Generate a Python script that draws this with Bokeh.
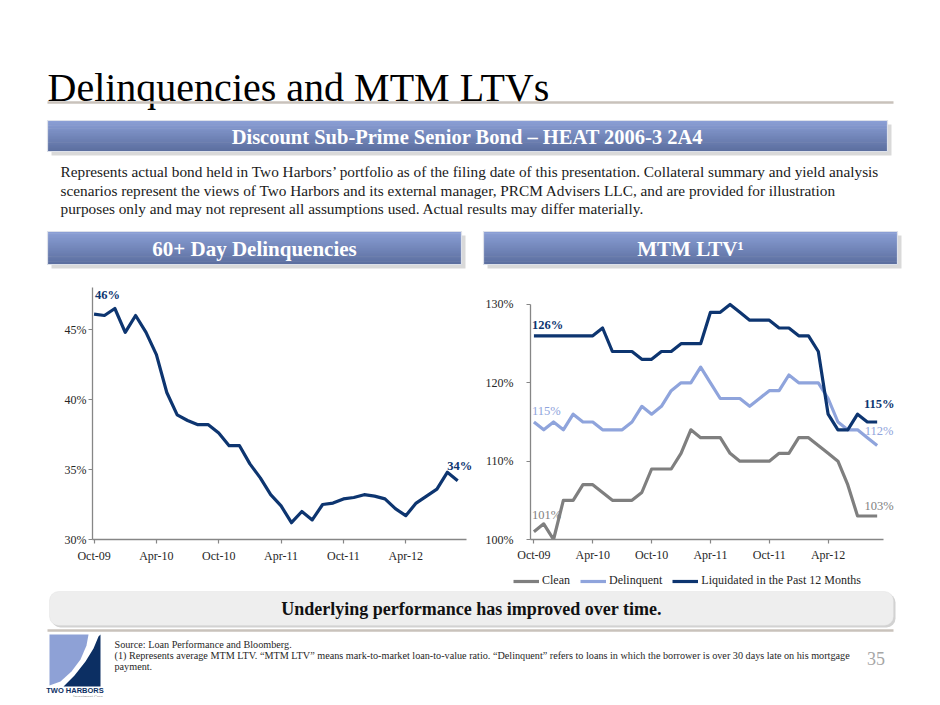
from bokeh.plotting import figure
from bokeh.layouts import column, row
from bokeh.models import Range1d, FixedTicker, Legend, LegendItem, BoxAnnotation, PrintfTickFormatter
from bokeh.core.properties import value
from bokeh.embed import file_html
from bokeh.resources import INLINE

# ---------------- data ----------------
tick_months = [0, 6, 12, 18, 24, 30]
tick_labels = ["Oct-09", "Apr-10", "Oct-10", "Apr-11", "Oct-11", "Apr-12"]
month_index = list(range(36))

delinquency_60 = [46.1, 46.0, 46.5, 44.8, 46.0, 44.8, 43.2, 40.5, 38.9, 38.5, 38.2, 38.2,
                  37.6, 36.7, 36.7, 35.4, 34.4, 33.2, 32.4, 31.2, 32.0, 31.4, 32.5, 32.6,
                  32.9, 33.0, 33.2, 33.1, 32.9, 32.2, 31.7, 32.6, 33.1, 33.6, 34.8, 34.2]

ltv_clean = [101, 102, 100, 105, 105, 107, 107, 106, 105, 105, 105, 106,
             109, 109, 109, 111, 114, 113, 113, 113, 111, 110, 110, 110,
             110, 111, 111, 113, 113, 112, 111, 110, 107, 103, 103, 103]
ltv_delinquent = [115, 114, 115, 114, 116, 115, 115, 114, 114, 114, 115, 117,
                  116, 117, 119, 120, 120, 122, 120, 118, 118, 118, 117, 118,
                  119, 119, 121, 120, 120, 120, 118, 115, 114, 114, 113, 112]
ltv_liquidated = [126, 126, 126, 126, 126, 126, 126, 127, 124, 124, 124, 123,
                  123, 124, 124, 125, 125, 125, 129, 129, 130, 129, 128, 128,
                  128, 127, 127, 126, 126, 124, 116, 114, 114, 116, 115, 115]
series_names = ["Clean", "Delinquent", "Liquidated in the Past 12 Months"]
delinq_ticks = [30, 35, 40, 45]
ltv_ticks = [100, 110, 120, 130]

title_text = "Delinquencies and MTM LTVs"
banner_text = "Discount Sub-Prime Senior Bond \u2013 HEAT 2006-3 2A4"
para_lines = [
    "Represents actual bond held in Two Harbors\u2019 portfolio as of  the filing date of  this presentation.  Collateral summary and yield analysis",
    "scenarios represent the views of  Two Harbors and its external manager, PRCM Advisers LLC, and are provided for illustration",
    "purposes only and may not represent all assumptions used. Actual results may differ materially.",
]
left_header = "60+ Day Delinquencies"
right_header = "MTM LTV\u00b9"
takeaway = "Underlying performance has improved over time."
footnotes = [
    "Source: Loan Performance and Bloomberg.",
    "(1) Represents average MTM LTV. \u201cMTM LTV\u201d means mark-to-market loan-to-value ratio. \u201cDelinquent\u201d refers to loans in which the borrower is over 30 days late on his mortgage",
    "payment.",
]
page_no = "35"
logo_name = "TWO HARBORS"
logo_sub = "Investment Corp."

# ---------------- styles ----------------
SERIF = "Liberation Serif"
NAVY = "#0d3570"
LIGHT = "#8fa4dc"
GRAY = "#7f7f7f"
AXIS = "#868686"
PAGE_W = 932
series_colors = [GRAY, LIGHT, NAVY]
NAN = float("nan")


def blank(w, h, xr, yr):
    f = figure(width=w, height=h, x_range=Range1d(*xr), y_range=Range1d(*yr),
               toolbar_location=None, output_backend="svg", x_axis_type=None, y_axis_type=None,
               min_border=0, sizing_mode="fixed")
    f.grid.visible = False
    f.outline_line_color = None
    f.background_fill_color = "white"
    return f


def mix(c1, c2, t):
    a = [int(c1[i:i + 2], 16) for i in (1, 3, 5)]
    b = [int(c2[i:i + 2], 16) for i in (1, 3, 5)]
    return "#%02x%02x%02x" % tuple(round(a[k] + (b[k] - a[k]) * t) for k in range(3))


def blue_bar(f, l, r, t, b, label, size):
    f.quad(left=[l + 4], right=[r + 4], top=[t + 4], bottom=[b + 4], fill_color="#d9d9d9", line_color=None)
    n = 20
    h = (b - t) / n
    tops = [t + i * h for i in range(n)]
    bots = [t + (i + 1) * h + 0.6 for i in range(n)]
    cols = [mix("#8a9ed5", "#5c6f9f", i / (n - 1)) for i in range(n)]
    f.quad(left=[l] * n, right=[r] * n, top=tops, bottom=bots, fill_color=cols, line_color=None)
    f.quad(left=[l], right=[r], top=[t], bottom=[b], fill_color=None, line_color="#dde1ea", line_width=1.2)
    f.text(x=[(l + r) / 2], y=[(t + b) / 2 + 1], text=[label], text_align="center", text_baseline="middle",
           text_font=value(SERIF), text_font_style="bold", text_font_size=size, text_color="white")


# ---------------- header ----------------
hdr = blank(PAGE_W, 280, (0, PAGE_W), (280, 0))
hdr.text(x=[47], y=[87], text=[title_text], text_font=value(SERIF), text_font_size="40px",
         text_baseline="alphabetic", text_color="#000000")
hdr.segment(x0=[47], y0=[102], x1=[893], y1=[102], line_color="#c9c2bb", line_width=2.5)
blue_bar(hdr, 47, 887, 120, 151, banner_text, "20.5px")
hdr.text(x=[60, 60, 60], y=[171, 190, 208], text=para_lines, text_font=value(SERIF), text_font_size="15.3px",
         text_baseline="alphabetic", text_color="#1a1a1a")
blue_bar(hdr, 47, 461, 231, 264, left_header, "21px")
blue_bar(hdr, 483, 897, 231, 264, right_header, "21px")


# ---------------- charts ----------------
def style_chart(p, yticks, ystand, xstand, xb, yb):
    p.grid.visible = False
    p.outline_line_color = None
    for ax in (p.xaxis[0], p.yaxis[0]):
        ax.axis_line_color = AXIS
        ax.axis_line_width = 1.3
        ax.major_tick_line_color = AXIS
        ax.major_tick_line_width = 1.2
        ax.major_tick_in = 0
        ax.major_tick_out = 4
        ax.minor_tick_line_color = None
        ax.major_label_text_font = SERIF
        ax.major_label_text_font_size = "12px"
        ax.major_label_text_color = "#262626"
    p.xaxis.ticker = FixedTicker(ticks=tick_months)
    p.xaxis.major_label_overrides = {m: s for m, s in zip(tick_months, tick_labels)}
    p.xaxis.bounds = xb
    p.yaxis.ticker = FixedTicker(ticks=yticks)
    p.yaxis.formatter = PrintfTickFormatter(format="%d%%")
    p.yaxis.bounds = yb
    p.yaxis.major_label_standoff = ystand
    p.xaxis.major_label_standoff = xstand


CH_H, BT, BB = 288, 7, 29  # chart band height, shared top / bottom borders

pl = figure(width=478, height=CH_H, x_range=Range1d(-0.15, 36.81), y_range=Range1d(30, 48),
            toolbar_location=None, output_backend="svg", sizing_mode="fixed",
            min_border_left=92, min_border_right=2, min_border_top=BT, min_border_bottom=BB)
style_chart(pl, delinq_ticks, 2, 5, (-0.15, 35.85), (30, 48))
pl.line(month_index, delinquency_60, line_color=NAVY, line_width=3.2, line_join="round")
pl.text(x=[month_index[0]], y=[delinquency_60[0]], text=["%d%%" % round(delinquency_60[0])],
        text_align="left", text_baseline="middle", y_offset=-19, x_offset=1,
        text_font=value(SERIF), text_font_style="bold", text_font_size="12.5px", text_color=NAVY)
pl.text(x=[month_index[-1]], y=[delinquency_60[-1]], text=["%d%%" % round(delinquency_60[-1])],
        text_align="center", text_baseline="middle", y_offset=-15, x_offset=2,
        text_font=value(SERIF), text_font_style="bold", text_font_size="12.5px", text_color=NAVY)

pr = figure(width=454, height=CH_H, x_range=Range1d(-0.35, 36.87), y_range=Range1d(100, 132.17),
            toolbar_location=None, output_backend="svg", sizing_mode="fixed",
            min_border_left=52, min_border_right=37, min_border_top=BT, min_border_bottom=BB)
style_chart(pr, ltv_ticks, 13, 4, (-0.35, 35.65), (100, 130))
for series, color in zip([ltv_clean, ltv_delinquent, ltv_liquidated], series_colors):
    pr.line(month_index, series, line_color=color, line_width=3.2, line_join="round")

for series, color, bold, off0, off1 in [(ltv_liquidated, NAVY, "bold", -11, -18),
                                         (ltv_delinquent, LIGHT, "normal", -11, -14),
                                         (ltv_clean, GRAY, "normal", -17, -10)]:
    pr.text(x=[month_index[0]], y=[series[0]], text=["%d%%" % series[0]], text_align="left",
            text_baseline="middle", y_offset=off0, x_offset=-2, text_font=value(SERIF),
            text_font_style=bold, text_font_size="12.5px", text_color=color)
    pr.text(x=[month_index[-1]], y=[series[-1]], text=["%d%%" % series[-1]], text_align="center",
            text_baseline="middle", y_offset=off1, x_offset=2, text_font=value(SERIF),
            text_font_style=bold, text_font_size="12.5px", text_color=color)

# ---------------- footer (holds the MTM LTV legend, the takeaway and the notes) ----------------
FT_TOP = 280 + CH_H
ftr = blank(PAGE_W, 697 - FT_TOP, (0, PAGE_W), (697, FT_TOP))

proxies = [ftr.line(x=[NAN], y=[NAN], line_color=c, line_width=3.2) for c in series_colors]
legend = Legend(items=[LegendItem(label=n, renderers=[r]) for n, r in zip(series_names, proxies)],
                orientation="horizontal", location=(513, 109), label_text_font=SERIF,
                label_text_font_size="12px", label_text_color="#262626", glyph_width=26, glyph_height=12,
                label_height=15, label_standoff=3, spacing=10, padding=3, margin=0, border_line_color=None,
                background_fill_alpha=0)
ftr.add_layout(legend, "center")

ftr.add_layout(BoxAnnotation(left=51, right=895, top=593, bottom=627, fill_color="#d2d2d2", fill_alpha=1,
                             line_color=None, border_radius=9, level="underlay"))
ftr.add_layout(BoxAnnotation(left=49, right=893, top=591, bottom=625, fill_color="#eeeeee", fill_alpha=1,
                             line_color="#d6d6d6", line_width=1, border_radius=9, level="underlay"))
ftr.text(x=[471], y=[608], text=[takeaway], text_align="center", text_baseline="middle",
         text_font=value(SERIF), text_font_style="bold", text_font_size="18px", text_color="#111111")
ftr.segment(x0=[47], y0=[630], x1=[893], y1=[630], line_color="#c9c2bb", line_width=2.5)

# logo
ftr.patch(x=[49, 88, 86, 80, 71, 60, 49], y=[634, 634, 645, 659, 671, 681, 685], fill_color="#8ea1d6", line_color=None)
ftr.patch(x=[100, 100, 63, 74, 85, 93, 98], y=[634, 686, 686, 675, 661, 648, 636], fill_color="#0c2f63", line_color=None)
ftr.text(x=[74.5], y=[690], text=[logo_name], text_align="center", text_baseline="middle",
         text_font=value("Liberation Sans"), text_font_style="bold", text_font_size="7.5px", text_color="#0c2f63")
ftr.text(x=[88], y=[695.5], text=[logo_sub], text_align="center", text_baseline="middle",
         text_font=value("Liberation Sans"), text_font_size="4px", text_color="#8a8a8a")

ftr.text(x=[114, 114, 114], y=[644, 655, 666], text=footnotes, text_font=value(SERIF),
         text_font_size="10.2px", text_baseline="alphabetic", text_color="#262626")
ftr.text(x=[875.5], y=[658], text=[page_no], text_align="center", text_baseline="middle",
         text_font=value(SERIF), text_font_size="18px", text_color="#a6a6a6")

layout = column(hdr, row(pl, pr, sizing_mode="fixed"), ftr, sizing_mode="fixed")
open("out.html", "w").write(file_html(layout, INLINE))
